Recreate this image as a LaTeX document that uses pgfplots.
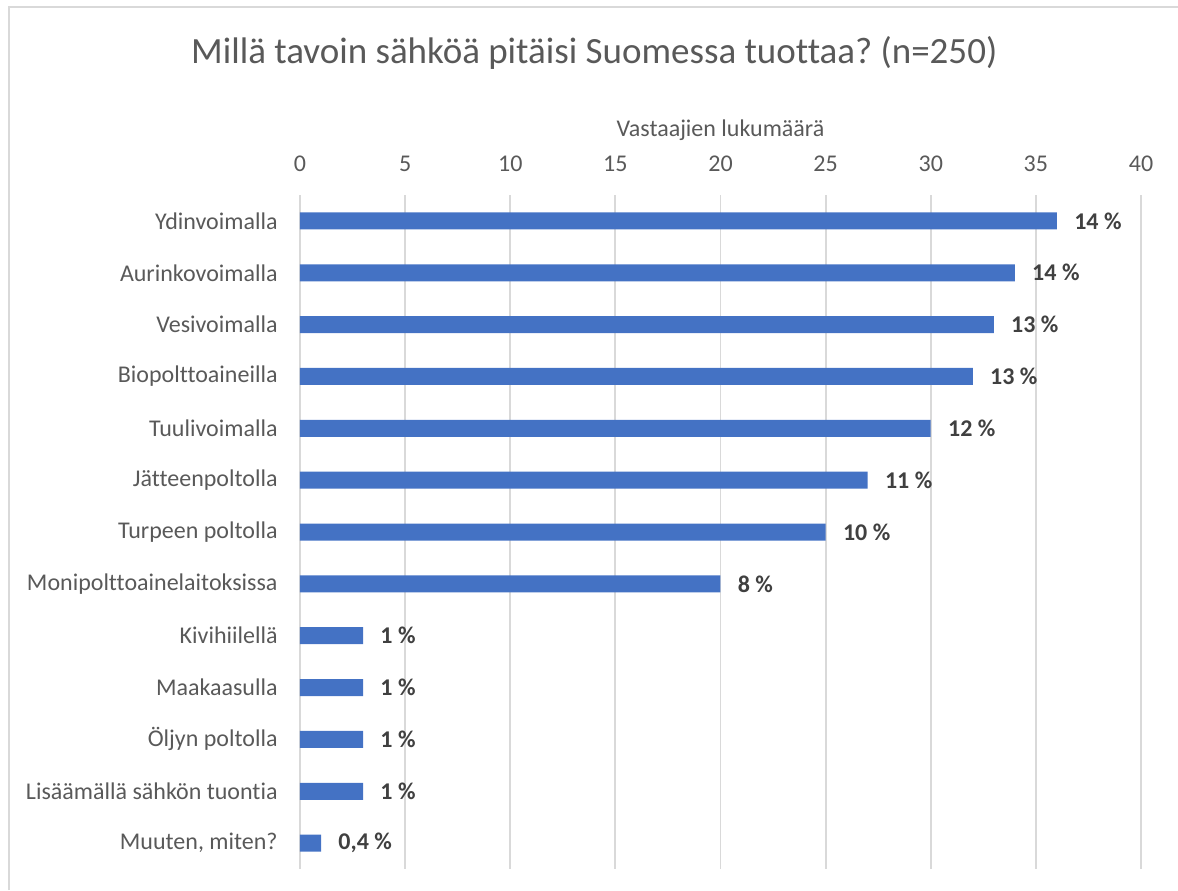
\documentclass[border=0pt]{standalone}
\usepackage{pgfplots}
\pgfplotsset{compat=1.18}
\usepackage{fontspec}
\setmainfont{Carlito}[Ligatures={NoCommon}]
\frenchspacing
\definecolor{barblue}{HTML}{4472C4}
\definecolor{txt}{HTML}{595959}
\definecolor{lab}{HTML}{404040}
\definecolor{gridc}{HTML}{D9D9D9}
\begin{document}
\begin{tikzpicture}[x=1pt,y=1pt]
\useasboundingbox (-150,97.5) rectangle (439,-347.5);
\draw[color=gridc, line width=0.75pt] (-145.5,-347.5) -- (-145.5,94) -- (439,94);
\begin{axis}[
  at={(0,0)}, anchor=north west,
  scale only axis, width=420.5pt, height=337pt,
  xmin=0, xmax=40, xtick={0,5,...,40},
  ymin=-0.5, ymax=12.5, y dir=reverse,
  ytick={0,...,12},
  yticklabels={Ydinvoimalla,Aurinkovoimalla,Vesivoimalla,Biopolttoaineilla,Tuulivoimalla,Jätteenpoltolla,Turpeen poltolla,Monipolttoainelaitoksissa,Kivihiilellä,Maakaasulla,Öljyn poltolla,Lisäämällä sähkön tuontia,{Muuten, miten?}},
  /pgf/number format/assume math mode=true,
  xbar, bar width=8.5pt, bar shift=0pt,
  xmajorgrids, grid style={color=gridc, line width=0.9pt},
  axis line style={draw=none}, major tick length=0pt,
  xticklabel pos=upper,
  xticklabel style={anchor=base, yshift=11.7pt, font=\fontsize{12}{14}\selectfont, text=txt},
  yticklabel style={anchor=east, inner sep=0pt, xshift=-11pt, font=\fontsize{12}{14}\selectfont, text=txt},
  xlabel={Vastaajien lukumäärä},
  xlabel style={at={(axis description cs:0.5,1)}, anchor=base, yshift=29.5pt, font=\fontsize{12}{14}\selectfont, text=txt},
  title={Millä tavoin sähköä pitäisi Suomessa tuottaa? (n=250)},
  title style={at={(axis description cs:0.35,1)}, anchor=base, yshift=59.8pt, font=\fontsize{18.5}{21}\selectfont, text=txt},
  point meta=explicit symbolic,
  nodes near coords,
  nodes near coords style={anchor=west, inner sep=0pt, xshift=8.5pt, font=\bfseries\fontsize{12}{14}\selectfont, text=lab},
]
\addplot[fill=barblue, draw=none] coordinates {
(36,0) [14 \%]
(34,1) [14 \%]
(33,2) [13 \%]
(32,3) [13 \%]
(30,4) [12 \%]
(27,5) [11 \%]
(25,6) [10 \%]
(20,7) [8 \%]
(3,8) [1 \%]
(3,9) [1 \%]
(3,10) [1 \%]
(3,11) [1 \%]
(1,12) [0,4 \%]
};
\end{axis}
\end{tikzpicture}
\end{document}
